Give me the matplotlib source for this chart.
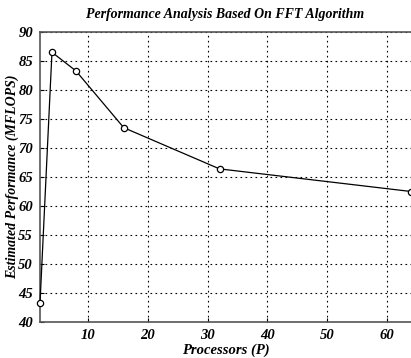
import matplotlib
matplotlib.use("Agg")
import matplotlib.pyplot as plt

processors = [2, 4, 8, 16, 32, 64]
performance = [43.2, 86.5, 83.3, 73.5, 66.4, 62.5]
x_ticks = [10, 20, 30, 40, 50, 60]
y_ticks = [40, 45, 50, 55, 60, 65, 70, 75, 80, 85, 90]

font = {'family': ['Liberation Serif', 'DejaVu Serif'], 'style': 'italic', 'weight': 'bold'}

fig = plt.figure(figsize=(4.11, 3.58), dpi=100)
ax = fig.add_axes([40/411, 1-322/358, 1-40/411, (322-32)/358])
ax.plot(processors, performance, color='black', lw=0.9, marker='o', ms=4.5,
        mfc='white', mec='black', mew=0.9, clip_on=False, zorder=3)
ax.set_xlim(2, 64)
ax.set_ylim(40, 90)
ax.set_xticks(x_ticks)
ax.set_yticks(y_ticks)
ax.grid(True, color='black', linestyle=(0, (1.5, 3)), linewidth=0.8)
ax.spines['right'].set_visible(False)
for s in ['left', 'top', 'bottom']:
    ax.spines[s].set_color('#555555')
    ax.spines[s].set_linewidth(1.2)
ax.tick_params(direction='in', length=3, width=0.8, pad=5)
for lab in ax.get_xticklabels() + ax.get_yticklabels():
    lab.set_fontfamily(font['family'])
    lab.set_fontstyle('italic')
    lab.set_fontweight('bold')
    lab.set_fontsize(10.5)
ax.set_title('Performance Analysis Based On FFT Algorithm', fontsize=10, pad=10, **font)
ax.set_xlabel('Processors (P)', fontsize=10.5, labelpad=1, **font)
ax.set_ylabel('Estimated Performance (MFLOPS)', fontsize=10, **font)
ax.yaxis.set_label_coords((19 - 40) / 371, 0.5)
fig.savefig('out.png', dpi=100)
